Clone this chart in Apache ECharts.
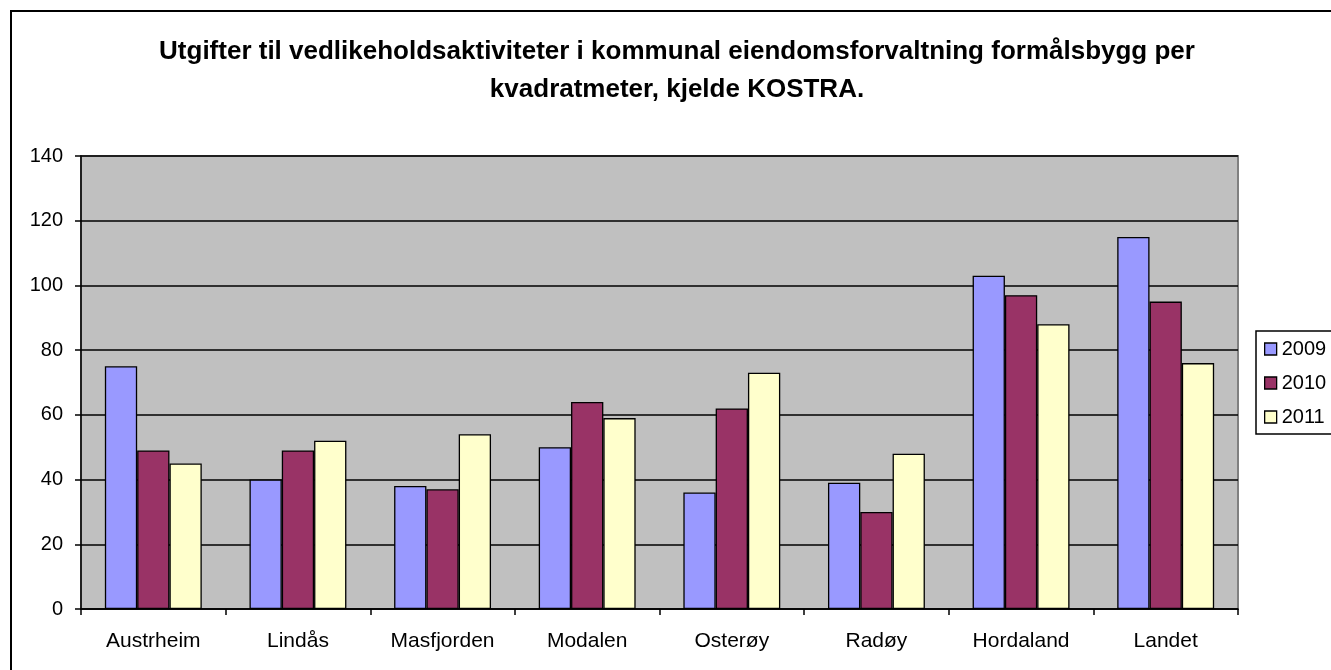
<!DOCTYPE html>
<html>
<head>
<meta charset="utf-8">
<script src="https://cdn.jsdelivr.net/npm/echarts@6/dist/echarts.min.js"></script>
<style>
  html, body { margin: 0; padding: 0; background: #fff; }
  #chart { width: 1331px; height: 670px; }
</style>
</head>
<body>
<div id="chart"></div>
<script>
const categories = ['Austrheim', 'Lindås', 'Masfjorden', 'Modalen', 'Osterøy', 'Radøy', 'Hordaland', 'Landet'];
const years = ['2009', '2010', '2011'];
const values2009 = [75, 40, 38, 50, 36, 39, 103, 115];
const values2010 = [49, 49, 37, 64, 62, 30, 97, 95];
const values2011 = [45, 52, 54, 59, 73, 48, 88, 76];
const colors = ['#9999ff', '#993366', '#ffffcc'];

const font = 'Liberation Sans, Arial, sans-serif';

const barSeries = {
  type: 'bar',
  barGap: 0,
  barCategoryGap: '33%',
  itemStyle: {
    borderColor: '#000',
    borderWidth: 1.3
  }
};

const chart = echarts.init(document.getElementById('chart'));
chart.setOption({
  animation: false,
  color: colors,
  title: {
    text: 'Utgifter til vedlikeholdsaktiviteter i kommunal eiendomsforvaltning formålsbygg per\nkvadratmeter, kjelde KOSTRA.',
    left: 672,
    top: 28,
    textAlign: 'center',
    textStyle: {
      fontFamily: font,
      fontSize: 26,
      fontWeight: 'bold',
      color: '#000',
      lineHeight: 38
    }
  },
  legend: {
    data: years,
    orient: 'vertical',
    left: 1256,
    top: 331,
    padding: [8, 10, 7, 8],
    itemGap: 14,
    itemWidth: 12,
    itemHeight: 12,
    icon: 'rect',
    borderColor: '#000',
    borderWidth: 1.5,
    itemStyle: { borderColor: '#000', borderWidth: 1.3 },
    textStyle: { fontFamily: font, fontSize: 20, color: '#000', padding: [0, 0, 0, 0] }
  },
  grid: {
    left: 81,
    right: 1331 - 1238,
    top: 156,
    bottom: 670 - 609,
    show: true,
    backgroundColor: '#c0c0c0',
    borderColor: '#808080',
    borderWidth: 2
  },
  xAxis: {
    type: 'category',
    data: categories,
    axisLine: { lineStyle: { color: '#000', width: 1.5 } },
    axisTick: { show: true, length: 6, lineStyle: { color: '#000', width: 1.5 } },
    axisLabel: { fontFamily: font, fontSize: 21, color: '#000', margin: 22 }
  },
  yAxis: {
    type: 'value',
    min: 0,
    max: 140,
    interval: 20,
    axisLine: { show: true, lineStyle: { color: '#000', width: 1.5 } },
    axisTick: { show: true, length: 6, lineStyle: { color: '#000', width: 1.5 } },
    axisLabel: { fontFamily: font, fontSize: 20, color: '#000', margin: 18 },
    splitLine: { lineStyle: { color: '#000', width: 1.5 } }
  },
  graphic: [{
    type: 'rect',
    shape: { x: 11, y: 11, width: 1340, height: 680 },
    style: { fill: 'none', stroke: '#000', lineWidth: 2 },
    z: -1
  }],
  series: [
    { name: years[0], ...barSeries, data: values2009 },
    { name: years[1], ...barSeries, data: values2010 },
    { name: years[2], ...barSeries, data: values2011 }
  ]
});
</script>
</body>
</html>
